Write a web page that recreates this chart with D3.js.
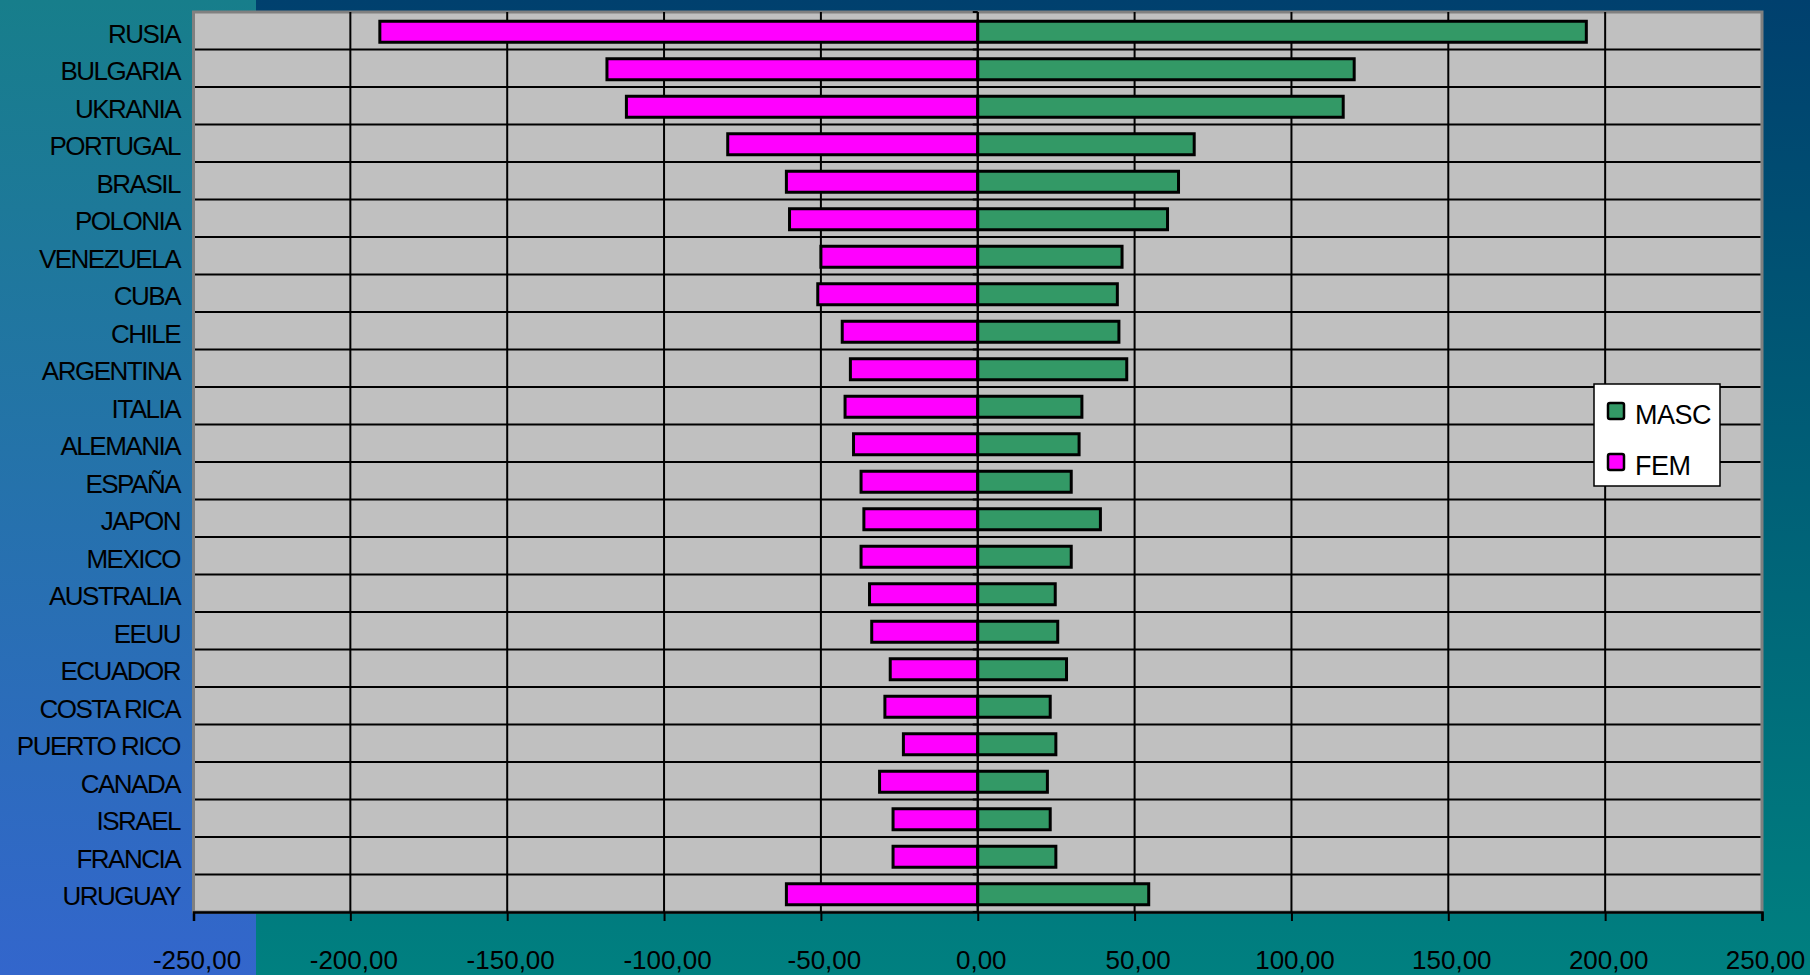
<!DOCTYPE html>
<html>
<head>
<meta charset="utf-8">
<script src="https://cdn.jsdelivr.net/npm/d3@7"></script>
<style>
  body { margin: 0; background: #00406e; }
  svg { display: block; font-family: Arial, "Liberation Sans", sans-serif; }
</style>
</head>
<body>
<svg width="1810" height="975"></svg>
<script>
// data (FEM plotted negative)
var countries = ['RUSIA', 'BULGARIA', 'UKRANIA', 'PORTUGAL', 'BRASIL', 'POLONIA',
  'VENEZUELA', 'CUBA', 'CHILE', 'ARGENTINA', 'ITALIA', 'ALEMANIA', 'ESPAÑA',
  'JAPON', 'MEXICO', 'AUSTRALIA', 'EEUU', 'ECUADOR', 'COSTA RICA', 'PUERTO RICO',
  'CANADA', 'ISRAEL', 'FRANCIA', 'URUGUAY'];
var masc = [194.0, 120.0, 116.5, 69.0, 64.0, 60.5, 46.0, 44.5, 45.0, 47.5, 33.2, 32.3,
  29.8, 39.1, 29.8, 24.7, 25.5, 28.3, 23.1, 24.9, 22.2, 23.1, 24.9, 54.5];
var fem = [-190.6, -118.2, -112.0, -79.7, -61.0, -60.0, -50.0, -51.0, -43.2, -40.6,
  -42.3, -39.6, -37.2, -36.3, -37.2, -34.5, -33.8, -27.9, -29.6, -23.7, -31.3, -27.0,
  -27.0, -61.0];
var xTicks = [-250, -200, -150, -100, -50, 0, 50, 100, 150, 200, 250];
var seriesNames = ['MASC', 'FEM'];
var seriesColors = ['#339966', '#ff00ff'];

var svg = d3.select('svg');
var width = 1810, height = 975;

// slide background: left strip + main area, both vertical gradients
var defs = svg.append('defs');
var gl = defs.append('linearGradient').attr('id', 'bgLeft')
  .attr('x1', 0).attr('y1', 0).attr('x2', 0).attr('y2', 1);
gl.append('stop').attr('offset', 0).attr('stop-color', '#177e8b');
gl.append('stop').attr('offset', 1).attr('stop-color', '#3366cc');
var gr = defs.append('linearGradient').attr('id', 'bgRight')
  .attr('x1', 0).attr('y1', 0).attr('x2', 0).attr('y2', 1);
gr.append('stop').attr('offset', 0).attr('stop-color', '#00406e');
gr.append('stop').attr('offset', 1).attr('stop-color', '#008080');

svg.append('rect').attr('width', 256).attr('height', height).attr('fill', 'url(#bgLeft)');
svg.append('rect').attr('x', 256).attr('width', width - 256).attr('height', height)
  .attr('fill', 'url(#bgRight)');

var x = d3.scaleLinear().domain([-250, 250]).range([193.5, 1762]);
var y = d3.scaleBand().domain(countries).range([12, 912]).paddingInner(0).paddingOuter(0);
var bw = y.bandwidth();
var barH = bw * 0.56;

// plot area
svg.append('rect')
  .attr('x', x(-250)).attr('y', y.range()[0])
  .attr('width', x(250) - x(-250)).attr('height', y.range()[1] - y.range()[0])
  .attr('fill', '#c0c0c0')
  .attr('stroke', '#808080')
  .attr('stroke-width', 3);

// vertical gridlines
svg.append('g').selectAll('line')
  .data(xTicks.filter(d => d > -250 && d < 250))
  .enter().append('line')
  .attr('x1', d => x(d)).attr('x2', d => x(d))
  .attr('y1', 12).attr('y2', 912)
  .attr('stroke', '#000').attr('stroke-width', 2);

// horizontal lines at category boundaries
svg.append('g').selectAll('line')
  .data(countries.slice(1))
  .enter().append('line')
  .attr('x1', x(-250) + 1.5).attr('x2', x(250) - 1.5)
  .attr('y1', d => y(d)).attr('y2', d => y(d))
  .attr('stroke', '#000').attr('stroke-width', 2);

// bars
var rows = countries.map((c, i) => ({name: c, masc: masc[i], fem: fem[i]}));
var barY = d => y(d.name) + (bw - barH) / 2 + 1;

svg.append('g').selectAll('rect')
  .data(rows)
  .enter().append('rect')
  .attr('x', d => x(d.fem))
  .attr('y', barY)
  .attr('width', d => x(0) - x(d.fem))
  .attr('height', barH)
  .attr('fill', seriesColors[1])
  .attr('stroke', '#000').attr('stroke-width', 3);

svg.append('g').selectAll('rect')
  .data(rows)
  .enter().append('rect')
  .attr('x', x(0))
  .attr('y', barY)
  .attr('width', d => x(d.masc) - x(0))
  .attr('height', barH)
  .attr('fill', seriesColors[0])
  .attr('stroke', '#000').attr('stroke-width', 3);

// category axis at zero, ticks on the band boundaries
svg.append('line')
  .attr('x1', x(0)).attr('x2', x(0)).attr('y1', 12).attr('y2', 912)
  .attr('stroke', '#000').attr('stroke-width', 2);
svg.append('g').selectAll('line')
  .data(countries.map(c => y(c)).concat([912]))
  .enter().append('line')
  .attr('x1', x(0) - 5).attr('x2', x(0))
  .attr('y1', d => d).attr('y2', d => d)
  .attr('stroke', '#000').attr('stroke-width', 2);

// category labels
svg.append('g').selectAll('text')
  .data(countries)
  .enter().append('text')
  .attr('x', 180)
  .attr('y', d => y(d) + bw / 2 + 12)
  .attr('text-anchor', 'end')
  .attr('font-size', 26)
  .attr('letter-spacing', -1.5)
  .attr('fill', '#000')
  .text(d => d);

// value axis
var fmt = d3.formatLocale({decimal: ',', thousands: '.', grouping: [3], currency: ['', ''], minus: '-'}).format('.2f');
var xAxis = svg.append('g')
  .attr('transform', 'translate(0,912)')
  .call(d3.axisBottom(x).tickValues(xTicks).tickSize(9).tickPadding(30).tickFormat(fmt));
xAxis.select('.domain').attr('stroke', '#000').attr('stroke-width', 2.5);
xAxis.selectAll('.tick line').attr('stroke', '#000').attr('stroke-width', 2);
xAxis.selectAll('.tick text')
  .attr('fill', '#000')
  .attr('font-size', 26)
  .attr('font-family', 'Arial, "Liberation Sans", sans-serif')
  .attr('dx', 3);

// legend
var legend = svg.append('g').attr('transform', 'translate(1594,384)');
legend.append('rect')
  .attr('width', 126).attr('height', 102)
  .attr('fill', '#fff').attr('stroke', '#000').attr('stroke-width', 1.5);
var items = legend.selectAll('g.item')
  .data(seriesNames)
  .enter().append('g')
  .attr('class', 'item')
  .attr('transform', (d, i) => 'translate(0,' + (i * 51) + ')');
items.append('rect')
  .attr('x', 14).attr('y', 19)
  .attr('width', 16).attr('height', 16)
  .attr('rx', 2)
  .attr('fill', (d, i) => seriesColors[i])
  .attr('stroke', '#000').attr('stroke-width', 2.5);
items.append('text')
  .attr('x', 41).attr('y', 40)
  .attr('font-size', 27)
  .attr('letter-spacing', -0.5)
  .attr('fill', '#000')
  .text(d => d);
</script>
</body>
</html>
